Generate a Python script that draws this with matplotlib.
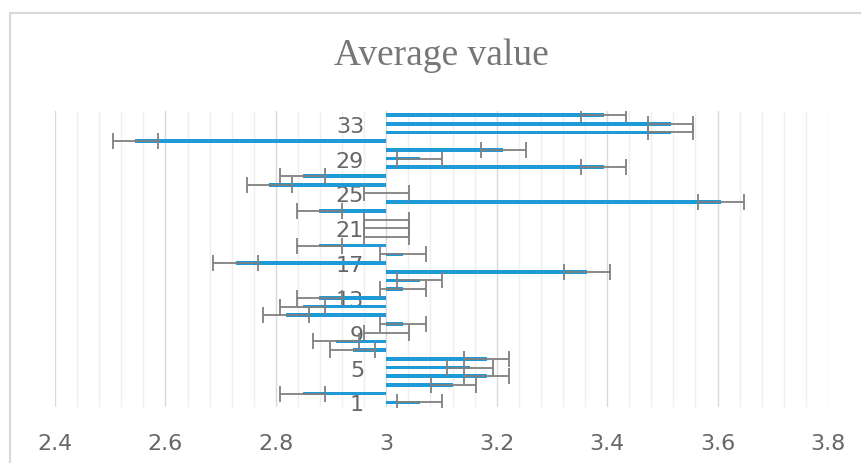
import numpy as np
import matplotlib
matplotlib.use('Agg')
import matplotlib.pyplot as plt
from matplotlib.patches import Rectangle
from matplotlib.ticker import MultipleLocator

# data (items 1..34)
items = list(range(1, 35))
avg = [3.0606, 2.8485, 3.1212, 3.1818, 3.1515, 3.1818, 2.9394, 2.9091, 3.0000, 3.0303,
       2.8182, 2.8485, 2.8788, 3.0303, 3.0606, 3.3636, 2.7273, 3.0303, 2.8788, 3.0000,
       3.0000, 3.0000, 2.8788, 3.6061, 3.0000, 2.7879, 2.8485, 3.3939, 3.0606, 3.2121,
       2.5455, 3.5152, 3.5152, 3.3939]
err = [0.041, 0.041, 0.041, 0.041, 0.041, 0.041, 0.041, 0.041, 0.041, 0.041,
       0.041, 0.041, 0.041, 0.041, 0.041, 0.041, 0.041, 0.041, 0.041, 0.041,
       0.041, 0.041, 0.041, 0.041, 0.041, 0.041, 0.041, 0.041, 0.041, 0.041,
       0.041, 0.041, 0.041, 0.041]
label_items = [1, 5, 9, 13, 17, 21, 25, 29, 33]
xticks = [2.4, 2.6, 2.8, 3.0, 3.2, 3.4, 3.6, 3.8]
xlabels = ['2.4', '2.6', '2.8', '3', '3.2', '3.4', '3.6', '3.8']
base = 3.0

W, H = 861, 464
fig = plt.figure(figsize=(W / 100, H / 100), dpi=100)
ax = fig.add_axes([55 / W, 1 - 407.7 / H, (828 - 55) / W, (407.7 - 111.7) / H])

tick_font = ['Liberation Sans Narrow', 'DejaVu Sans']
grey = '#666666'

y = np.array(items)
v = np.array(avg)
ax.barh(y, v - base, left=base, height=0.42, color='#1E9BD7', zorder=3)
ax.errorbar(v, y, xerr=err, fmt='none', ecolor='#808080', elinewidth=1.3,
            capsize=5.5, capthick=1.3, zorder=4)

ax.set_xlim(2.4, 3.8)
ax.set_ylim(0.5, 34.5)
ax.set_xticks(xticks)
ax.set_xticklabels(xlabels)
ax.xaxis.set_minor_locator(MultipleLocator(0.04))
ax.grid(axis='x', which='major', color='#D9D9D9', lw=1.0, zorder=0)
ax.grid(axis='x', which='minor', color='#EFEFEF', lw=1.0, zorder=0)
ax.grid(axis='y', visible=False)

ax.set_yticks(label_items)
ax.set_yticklabels([str(i) for i in label_items])
ax.spines['left'].set_position(('data', base))
for s in ['left', 'right', 'top', 'bottom']:
    ax.spines[s].set_visible(False)
ax.tick_params(axis='y', length=0, pad=16, labelcolor=grey, labelsize=16)
ax.tick_params(axis='x', which='both', length=0, pad=19, labelcolor=grey, labelsize=16)
for lab in ax.get_xticklabels() + ax.get_yticklabels():
    lab.set_family(tick_font)

fig.text(441.5 / W, 1 - 56 / H, 'Average value', ha='center', va='center',
         fontsize=27, color='#767676', family=['Liberation Serif', 'DejaVu Serif'])

# outer chart frame (right and bottom edges fall outside the image)
fig.patches.append(Rectangle((9.5 / W, -0.1), 2, 1 - 13.5 / H + 0.1,
                             transform=fig.transFigure, fill=False,
                             edgecolor='#D9D9D9', lw=1.5, clip_on=False))

fig.savefig('out.png', dpi=100)
